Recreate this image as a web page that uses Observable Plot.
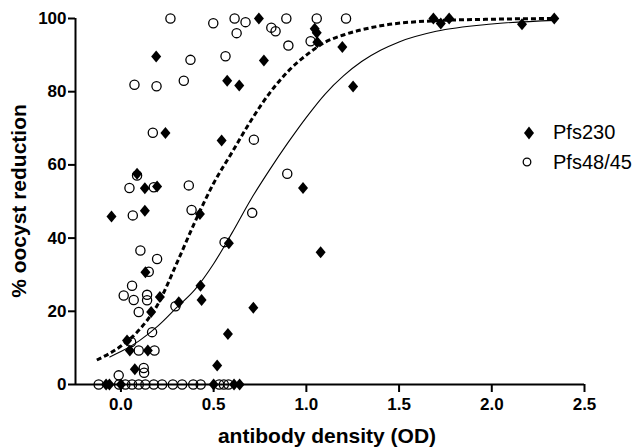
<!DOCTYPE html>
<html>
<head>
<meta charset="utf-8">
<script src="https://cdn.jsdelivr.net/npm/d3@7"></script>
<script src="https://cdn.jsdelivr.net/npm/@observablehq/plot@0.6"></script>
<style>
  body { margin: 0; background: #fff; }
  #wrap { position: relative; width: 642px; height: 448px; font-family: "Liberation Sans", Arial, sans-serif; }
  .lab { position: absolute; font-weight: bold; font-size: 21px; white-space: nowrap; color: #000; }
  .leg { position: absolute; font-size: 20px; color: #000; white-space: nowrap; }
</style>
</head>
<body>
<div id="wrap"></div>
<script>
// Pfs230 (filled diamonds)
const pfs230X = [0.744,0.19,0.573,0.638,0.24,0.543,0.087,0.129,0.195,-0.051,0.129,0.426,0.582,0.132,0.429,0.21,0.163,0.312,0.435,0.033,0.048,0.145,0.075,0.519,0.577,0.714,0.982,1.077,1.045,1.056,1.059,1.194,0.771,1.252,1.685,1.725,1.77,2.163,2.337,-0.08,-0.062,0.0,0.5,0.61,0.64];
const pfs230Y = [100,89.6,83,81.7,68.7,66.7,57.6,53.6,54.1,45.9,47.5,46.6,38.6,30.7,27,23.9,19.8,22.5,23.1,12,9.3,9.3,4.2,5.2,13.8,21,53.7,36.1,97.2,96.1,93.5,92.2,88.5,81.4,100,98.6,100,98.4,100,0,0,0,0,0,0];
// Pfs48/45 (open circles)
const pfs4845X = [0.267,0.498,0.613,0.672,0.624,0.892,1.056,1.214,0.811,0.834,1.023,0.903,0.375,0.564,0.073,0.192,0.339,0.172,0.717,0.087,0.046,0.177,0.366,0.064,0.381,0.559,0.708,0.897,0.105,0.195,0.15,0.06,0.015,0.069,0.141,0.141,0.096,0.294,0.168,0.055,0.096,0.181,-0.012,0.123,0.125,-0.12,-0.01,0.024,0.06,0.096,0.132,0.177,0.222,0.28,0.33,0.39,0.43,0.53,0.555,0.58];
const pfs4845Y = [100,98.7,100,99,96,100,100,100,97.5,96.5,93.8,92.6,88.7,89.7,81.9,81.5,83,68.8,66.9,57.1,53.7,53.9,54.4,46.2,47.7,38.9,46.9,57.6,36.6,34.3,30.8,27,24.3,23.1,24.5,23,19.8,21.4,14.3,11.6,9.3,9.3,2.5,4.5,3.2,0,0,0,0,0,0,0,0,0,0,0,0,0,0,0];
// fitted curves
const dashX = [-0.13,0,0.1,0.2,0.3,0.4,0.5,0.6,0.7,0.8,0.9,1.0,1.1,1.2,1.4,1.7,2.0,2.34];
const dashY = [6.7,10.5,15,22,33,44.5,55,63.5,72,79.5,85.5,90,93.5,95.5,98,99.4,99.8,100];
const solidX = [-0.06,0,0.1,0.2,0.3,0.4,0.5,0.6,0.7,0.8,0.9,1.0,1.1,1.2,1.3,1.4,1.5,1.7,2.0,2.34];
const solidY = [7.5,9,12,16,21,26,33,41.5,50.5,58.5,66,73,79.3,84.3,88.3,91.3,93.6,96.5,98.5,99.5];
const xTicks = [0,0.5,1.0,1.5,2.0,2.5];
const yTicks = [0,20,40,60,80,100];
const xDomain = [-0.245, 2.5];
const yDomain = [0, 100];
const legendLabels = ["Pfs230", "Pfs48/45"];

const p230 = pfs230X.map((x,i)=>({x, y:pfs230Y[i]}));
const p4845 = pfs4845X.map((x,i)=>({x, y:pfs4845Y[i]}));
const dash = dashX.map((x,i)=>({x, y:dashY[i]}));
const solid = solidX.map((x,i)=>({x, y:solidY[i]}));

const diamond = {
  draw(ctx, size) {
    const r = Math.sqrt(size / Math.PI);
    const h = r * 1.2, w = r * 1.0;
    ctx.moveTo(0, -h); ctx.lineTo(w, 0); ctx.lineTo(0, h); ctx.lineTo(-w, 0); ctx.closePath();
  }
};

const chart = Plot.plot({
  width: 642, height: 448,
  marginLeft: 75, marginRight: 58, marginTop: 18, marginBottom: 64,
  style: {fontFamily: "Liberation Sans, Arial, sans-serif", fontSize: "17px", fontWeight: "bold", color: "#000", background: "#fff", overflow: "visible"},
  x: {domain: xDomain},
  y: {domain: yDomain},
  marks: [
    Plot.axisX({ticks: xTicks, tickFormat: d => d.toFixed(1), tickSize: 8, tickPadding: 5, strokeWidth: 2, label: null, fontSize: 17, fontWeight: "bold"}),
    Plot.axisY({ticks: yTicks, tickSize: 7, tickPadding: 2, strokeWidth: 2, label: null, fontSize: 17, fontWeight: "bold"}),
    Plot.line(dash, {x: "x", y: "y", curve: "monotone-x", stroke: "#000", strokeWidth: 3, strokeDasharray: "5,3", strokeLinecap: "butt"}),
    Plot.line(solid, {x: "x", y: "y", curve: "monotone-x", stroke: "#000", strokeWidth: 1.1}),
    Plot.dot(p4845, {x: "x", y: "y", r: 4.6, stroke: "#000", strokeWidth: 1.3, fill: "none"}),
    Plot.dot(p230, {x: "x", y: "y", r: 5, symbol: diamond, fill: "#000", stroke: "none"}),
    Plot.ruleY([yDomain[0]], {stroke: "#000", strokeWidth: 2}),
    Plot.ruleX([xDomain[0]], {stroke: "#000", strokeWidth: 2})
  ]
});

const wrap = document.getElementById("wrap");
wrap.appendChild(chart);

const xl = document.createElement("div");
xl.className = "lab";
xl.textContent = "antibody density (OD)";
xl.style.left = "327px"; xl.style.top = "436px";
xl.style.transform = "translate(-50%,-50%)";
wrap.appendChild(xl);

const yl = document.createElement("div");
yl.className = "lab";
yl.textContent = "% oocyst reduction";
yl.style.left = "19px"; yl.style.top = "201px";
yl.style.transform = "translate(-50%,-50%) rotate(-90deg)";
wrap.appendChild(yl);

// legend
const legSym = [
  '<svg width="14" height="16" style="position:absolute;left:522px;top:125px"><path d="M7,1.5L12,8L7,14.5L2,8Z" fill="#000"/></svg>',
  '<svg width="14" height="14" style="position:absolute;left:520px;top:155px"><circle cx="7" cy="7" r="3.8" fill="none" stroke="#000" stroke-width="1.3"/></svg>'
];
legendLabels.forEach((t, i) => {
  wrap.insertAdjacentHTML("beforeend", legSym[i]);
  const d = document.createElement("div");
  d.className = "leg";
  d.textContent = t;
  d.style.left = "553px";
  d.style.top = (132 + i * 30) + "px";
  d.style.transform = "translateY(-50%)";
  wrap.appendChild(d);
});
</script>
</body>
</html>
